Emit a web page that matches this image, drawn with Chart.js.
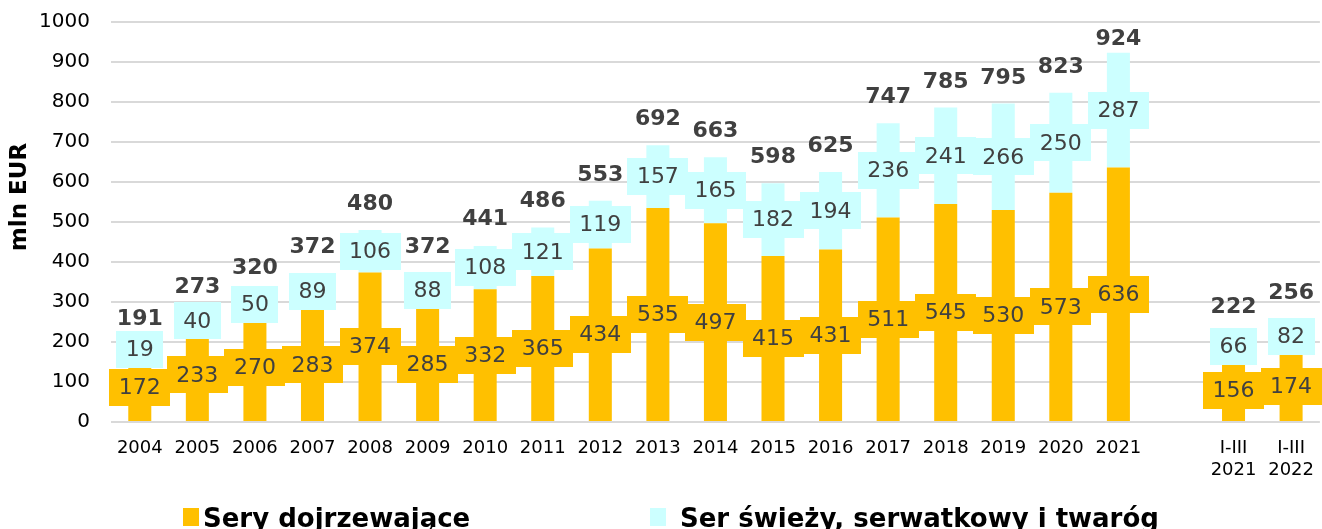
<!DOCTYPE html>
<html>
<head>
<meta charset="utf-8">
<script src="https://cdn.jsdelivr.net/npm/chart.js@4.4.1/dist/chart.umd.min.js"></script>
<style>
  html, body { margin: 0; padding: 0; background: #fff; }
  #wrap { width: 1322px; height: 529px; }
</style>
</head>
<body>
<div id="wrap"><canvas id="chart" width="1322" height="529"></canvas></div>
<script>
// categories (empty slot = gap between years and the I-III comparison)
const categories = ["2004", "2005", "2006", "2007", "2008", "2009", "2010", "2011", "2012",
  "2013", "2014", "2015", "2016", "2017", "2018", "2019", "2020", "2021", "",
  ["I-III", "2021"], ["I-III", "2022"]];
const matureCheese = [172, 233, 270, 283, 374, 285, 332, 365, 434, 535, 497, 415, 431,
  511, 545, 530, 573, 636, null, 156, 174];
const freshCheese = [19, 40, 50, 89, 106, 88, 108, 121, 119, 157, 165, 182, 194,
  236, 241, 266, 250, 287, null, 66, 82];
const totals = [191, 273, 320, 372, 480, 372, 441, 486, 553, 692, 663, 598, 625,
  747, 785, 795, 823, 924, null, 222, 256];
const yTicks = [0, 100, 200, 300, 400, 500, 600, 700, 800, 900, 1000];

const ORANGE = "#FFC000";
const CYAN = "#CCFFFF";
const FONT = "'DejaVu Sans', Verdana, sans-serif";

// value labels in boxes, totals on top, axis title and legend
const labelPlugin = {
  id: "labelPlugin",
  afterDatasetsDraw(chart) {
    const ctx = chart.ctx;
    const yScale = chart.scales.y;
    ctx.save();
    ctx.font = "22px " + FONT;
    ctx.textAlign = "center";
    ctx.textBaseline = "middle";
    chart.data.datasets.forEach((ds, di) => {
      const meta = chart.getDatasetMeta(di);
      meta.data.forEach((bar, i) => {
        const v = ds.data[i];
        if (v == null) return;
        const cy = (bar.y + bar.base) / 2;
        const txt = String(v);
        const w = ctx.measureText(txt).width + 19;
        const h = 37;
        ctx.fillStyle = ds.backgroundColor;
        ctx.fillRect(Math.round(bar.x - w / 2), Math.round(cy - h / 2), Math.round(w), h);
        ctx.fillStyle = "#404040";
        ctx.fillText(txt, bar.x, cy + 1);
      });
    });
    // totals
    ctx.font = "bold 22px " + FONT;
    const topMeta = chart.getDatasetMeta(1);
    totals.forEach((t, i) => {
      if (t == null) return;
      const bar = topMeta.data[i];
      let y = yScale.getPixelForValue(t) - 26;
      y = Math.max(y, chart.chartArea.top + 17);
      ctx.fillStyle = "#404040";
      ctx.fillText(String(t), bar.x, y);
    });
    ctx.restore();
  },
  afterDraw(chart) {
    const ctx = chart.ctx;
    ctx.save();
    // y axis title
    ctx.translate(20, 197);
    ctx.rotate(-Math.PI / 2);
    ctx.font = "bold 23px " + FONT;
    ctx.fillStyle = "#000";
    ctx.textAlign = "center";
    ctx.textBaseline = "middle";
    ctx.fillText("mln EUR", 0, 0);
    ctx.restore();

    // legend
    ctx.save();
    ctx.font = "bold 26px " + FONT;
    ctx.textBaseline = "alphabetic";
    ctx.textAlign = "left";
    const items = [
      { x: 183, ds: chart.data.datasets[0], gap: 20 },
      { x: 650, ds: chart.data.datasets[1], gap: 30 }
    ];
    items.forEach(it => {
      ctx.fillStyle = it.ds.backgroundColor;
      ctx.fillRect(it.x, 508, 16, 18);
      ctx.fillStyle = "#000";
      ctx.fillText(it.ds.label, it.x + it.gap, 527);
    });
    ctx.restore();
  }
};

new Chart(document.getElementById("chart"), {
  type: "bar",
  data: {
    labels: categories,
    datasets: [
      { label: "Sery dojrzewające", data: matureCheese, backgroundColor: ORANGE,
        barPercentage: 0.4, categoryPercentage: 1 },
      { label: "Ser świeży, serwatkowy i twaróg", data: freshCheese, backgroundColor: CYAN,
        barPercentage: 0.4, categoryPercentage: 1 }
    ]
  },
  options: {
    responsive: false,
    animation: false,
    layout: { padding: { top: 22, right: 0, left: 0, bottom: 0 } },
    plugins: {
      legend: { display: false },
      tooltip: { enabled: false }
    },
    scales: {
      x: {
        stacked: true,
        grid: { display: false },
        border: { display: false },
        ticks: {
          font: { family: FONT, size: 18 },
          color: "#000",
          padding: 8,
          maxRotation: 0,
          autoSkip: false
        },
        afterFit(scale) { scale.height = 107; }
      },
      y: {
        stacked: true,
        min: 0,
        max: 1000,
        afterBuildTicks(scale) { scale.ticks = yTicks.map(v => ({ value: v })); },
        grid: { color: "#d9d9d9", lineWidth: 2, drawTicks: false },
        border: { display: false },
        ticks: {
          font: { family: FONT, size: 20 },
          color: "#000",
          padding: 21,
          callback: v => String(v)
        },
        afterFit(scale) {
          scale.width = 111;
          scale.paddingTop = 0;
          scale.paddingBottom = 0;
        }
      }
    }
  },
  plugins: [labelPlugin]
});
</script>
</body>
</html>
